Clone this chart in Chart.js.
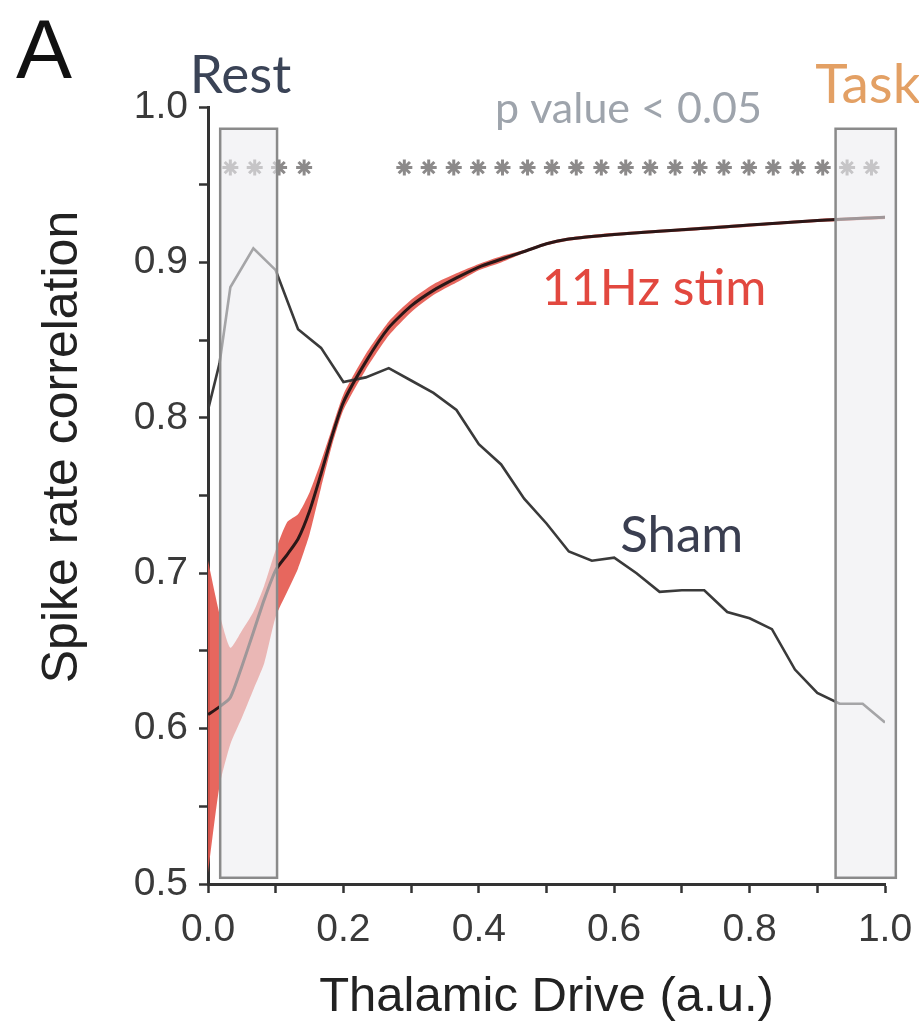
<!DOCTYPE html>
<html>
<head>
<meta charset="utf-8">
<script src="https://cdn.jsdelivr.net/npm/chart.js@4.4.1/dist/chart.umd.min.js"></script>
<style>
  html, body { margin: 0; padding: 0; background: #fff; }
  #wrap { width: 919px; height: 1027px; }
</style>
</head>
<body>
<div id="wrap"><canvas id="chart" width="919" height="1027"></canvas></div>
<script>
// Sham curve
const shamX = [0, 0.017, 0.033, 0.067, 0.1, 0.133, 0.167, 0.2, 0.233, 0.267, 0.3, 0.333, 0.367, 0.4, 0.433, 0.467,
  0.5, 0.533, 0.567, 0.6, 0.633, 0.667, 0.7, 0.733, 0.767, 0.8, 0.833, 0.867, 0.9, 0.933, 0.967, 1.0];
const shamY = [0.805, 0.835, 0.884, 0.909, 0.895, 0.857, 0.845, 0.823, 0.826, 0.832, 0.824, 0.816, 0.805, 0.783, 0.770, 0.748,
  0.732, 0.714, 0.708, 0.710, 0.700, 0.688, 0.689, 0.689, 0.675, 0.671, 0.664, 0.638, 0.623, 0.616, 0.616, 0.604];

// 11Hz stim curve + band
const stimX = [0, 0.017, 0.033, 0.05, 0.067, 0.083, 0.1, 0.117, 0.133, 0.15, 0.167, 0.183, 0.2, 0.233,
  0.267, 0.3, 0.333, 0.367, 0.4, 0.433, 0.467, 0.5, 0.533, 0.6, 0.7, 0.8, 0.9, 1.0];
const stimMean = [0.609, 0.614, 0.620, 0.640, 0.662, 0.683, 0.702, 0.712, 0.722, 0.740, 0.764, 0.788, 0.810, 0.836,
  0.858, 0.872, 0.882, 0.890, 0.897, 0.902, 0.907, 0.912, 0.915, 0.918, 0.921, 0.924, 0.927, 0.929];
const stimUpper = [0.708, 0.674, 0.652, 0.663, 0.675, 0.692, 0.715, 0.733, 0.738, 0.752, 0.772, 0.793, 0.815, 0.841,
  0.862, 0.876, 0.886, 0.893, 0.899, 0.904, 0.908, 0.913, 0.916, 0.919, 0.922, 0.925, 0.928, 0.930];
const stimLower = [0.507, 0.563, 0.590, 0.607, 0.625, 0.642, 0.672, 0.688, 0.703, 0.725, 0.755, 0.782, 0.805, 0.831,
  0.853, 0.868, 0.879, 0.887, 0.895, 0.900, 0.906, 0.911, 0.914, 0.917, 0.920, 0.923, 0.926, 0.928];

// significance stars (p < 0.05)
const starX = [0.033, 0.069, 0.105, 0.142, 0.290, 0.326, 0.363, 0.399, 0.435, 0.472, 0.508, 0.544, 0.581,
  0.617, 0.653, 0.690, 0.726, 0.762, 0.799, 0.835, 0.871, 0.908, 0.944, 0.980, 1.017];
const starLevel = 0.961;

// Rest / Task windows
const restRange = [0.018, 0.102];
const taskRange = [0.927, 1.016];
const windowSpan = [0.504, 0.986];

const xTicks = [0, 0.2, 0.4, 0.6, 0.8, 1.0];
const yTicks = [0.5, 0.6, 0.7, 0.8, 0.9, 1.0];

const pts = (xs, ys) => xs.map((x, i) => ({ x: x, y: ys[i] }));
const near = (v, list) => list.some(t => Math.abs(t - v) < 1e-6);

// text labels, placed in data units
const notes = [
  { text: 'Rest', x: -0.027, y: 1.009, font: '53px Lato', color: '#3a4356' },
  { text: 'Task', x: 0.897, y: 1.0026, font: '55px Lato', color: '#e3a064' },
  { text: 'p value < 0.05', x: 0.424, y: 0.9897, font: '43px Lato', color: '#9ea4ac' },
  { text: '11Hz stim', x: 0.493, y: 0.8726, font: '50px Lato', color: '#e2483f' },
  { text: 'Sham', x: 0.609, y: 0.7136, font: '51px Lato', color: '#3a3e50' }
];

const overlay = {
  id: 'overlay',
  afterDatasetsDraw(chart) {
    const { ctx, scales: { x, y } } = chart;
    ctx.save();
    // grey windows sit on top of the curves
    [restRange, taskRange].forEach(r => {
      const l = x.getPixelForValue(r[0]), rr = x.getPixelForValue(r[1]);
      const t = y.getPixelForValue(windowSpan[1]), b = y.getPixelForValue(windowSpan[0]);
      ctx.fillStyle = 'rgba(236,236,240,0.6)';
      ctx.fillRect(l, t, rr - l, b - t);
      ctx.strokeStyle = '#8a8a8a';
      ctx.lineWidth = 2.5;
      ctx.strokeRect(l, t, rr - l, b - t);
    });
    ctx.textBaseline = 'alphabetic';
    ctx.textAlign = 'left';
    notes.forEach(n => {
      ctx.font = n.font;
      ctx.fillStyle = n.color;
      ctx.fillText(n.text, x.getPixelForValue(n.x), y.getPixelForValue(n.y));
    });
    // panel letter
    ctx.font = '84px "Liberation Sans"';
    ctx.fillStyle = '#111';
    ctx.fillText('A', 16, 78);
    // y axis title (sits above the axis centre, so drawn by hand)
    ctx.translate(63, 447);
    ctx.rotate(-Math.PI / 2);
    ctx.textAlign = 'center';
    ctx.textBaseline = 'middle';
    ctx.font = '50px "Liberation Sans"';
    ctx.fillStyle = '#222';
    ctx.fillText('Spike rate correlation', 0, 0);
    ctx.restore();
  }
};

new Chart(document.getElementById('chart'), {
  type: 'line',
  data: {
    datasets: [
      {
        label: 'band low', data: pts(stimX, stimLower), order: 5,
        borderWidth: 0, pointRadius: 0, fill: false, tension: 0.2
      },
      {
        label: 'band high', data: pts(stimX, stimUpper), order: 4,
        borderWidth: 0, pointRadius: 0, fill: '-1', tension: 0.2,
        backgroundColor: 'rgba(228,86,76,0.9)'
      },
      {
        label: 'Sham', data: pts(shamX, shamY), order: 3,
        borderColor: '#3a3a3a', borderWidth: 2.6, pointRadius: 0, tension: 0, fill: false
      },
      {
        label: '11Hz stim', data: pts(stimX, stimMean), order: 2,
        borderColor: '#2b1717', borderWidth: 3, pointRadius: 0, tension: 0.2, fill: false
      },
      {
        label: 'p < 0.05', data: starX.map(v => ({ x: v, y: starLevel })), order: 1,
        showLine: false, pointStyle: 'star', pointRadius: 8, borderWidth: 3,
        borderColor: '#8c8a8a', backgroundColor: '#8c8a8a', clip: false
      }
    ]
  },
  options: {
    responsive: false,
    animation: false,
    devicePixelRatio: 1,
    layout: { padding: { left: 0, right: 0, top: 107, bottom: 0 } },
    plugins: { legend: { display: false }, tooltip: { enabled: false } },
    scales: {
      x: {
        type: 'linear', min: 0, max: 1.0,
        // fixed plot box: right edge at 885px
        afterFit: s => { s.height = 143; s.paddingLeft = 0; s.paddingRight = 34; },
        grid: { drawOnChartArea: false, drawTicks: true, tickLength: 9, tickColor: '#333', tickWidth: 2.5 },
        border: { display: true, color: '#333', width: 3 },
        ticks: {
          stepSize: 0.1, autoSkip: false, maxRotation: 0, padding: 14,
          color: '#3a3a3a', font: { family: 'Liberation Sans', size: 39 },
          callback: v => near(v, xTicks) ? v.toFixed(1) : ''
        },
        title: {
          display: true, text: 'Thalamic Drive (a.u.)', color: '#222',
          font: { family: 'Liberation Sans', size: 49 }, padding: { top: 0, bottom: 0 }
        }
      },
      y: {
        min: 0.5, max: 1.0,
        afterFit: s => { s.width = 208; s.paddingTop = 0; s.paddingBottom = 0; },
        grid: { drawOnChartArea: false, drawTicks: true, tickLength: 9, tickColor: '#333', tickWidth: 2.5 },
        border: { display: true, color: '#333', width: 3 },
        ticks: {
          stepSize: 0.05, autoSkip: false, padding: 11,
          color: '#3a3a3a', font: { family: 'Liberation Sans', size: 39 },
          callback: v => near(v, yTicks) ? v.toFixed(1) : ''
        }
      }
    }
  },
  plugins: [overlay]
});
</script>
</body>
</html>
